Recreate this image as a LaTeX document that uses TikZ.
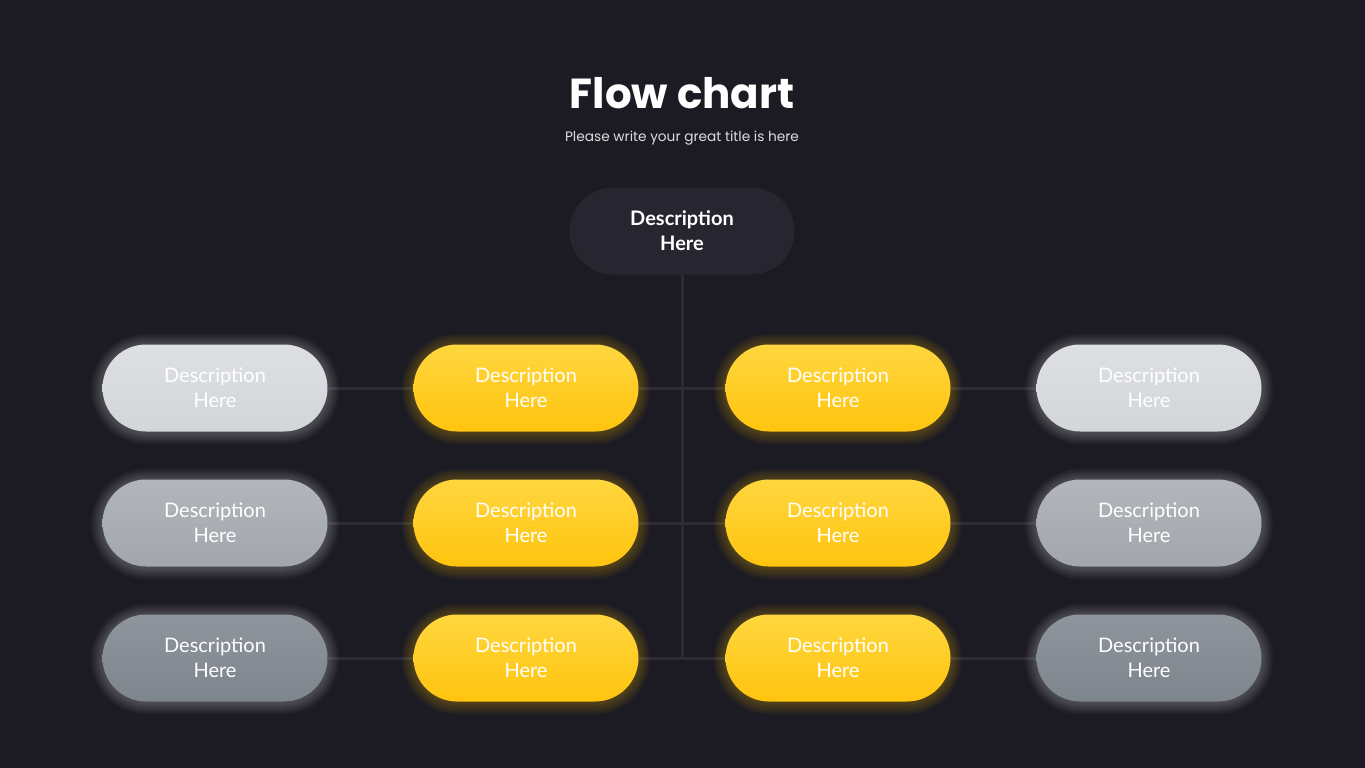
\documentclass[tikz,border=0pt]{standalone}
\usepackage{fontspec}
\setmainfont{Lato}
\newfontfamily\titlefont{Poppins}
\usetikzlibrary{calc}
\definecolor{bg}{HTML}{1C1B23}
\definecolor{topfill}{HTML}{262530}
\definecolor{linec}{HTML}{2C2B36}
\definecolor{yelA}{HTML}{FFD63F}
\definecolor{yelB}{HTML}{FFC40E}
\definecolor{glowY}{HTML}{FFC81A}
\definecolor{grA1}{HTML}{DDDFE2}
\definecolor{grB1}{HTML}{D3D6D9}
\definecolor{grA2}{HTML}{B2B6BB}
\definecolor{grB2}{HTML}{A2A7AD}
\definecolor{grA3}{HTML}{8F959C}
\definecolor{grB3}{HTML}{7E858D}
\definecolor{glowW}{HTML}{E8EAEE}
\tikzset{
  x=1pt, y=-1pt,
  pill/.style={rectangle, rounded corners=43.5pt, minimum width=225pt, minimum height=87pt,
    inner sep=0pt, align=center, text=white, font=\fontsize{20}{25}\selectfont},
  yel/.style={pill, top color=yelA, bottom color=yelB},
  gry1/.style={pill, top color=grA1, bottom color=grB1},
  gry2/.style={pill, top color=grA2, bottom color=grB2},
  gry3/.style={pill, top color=grA3, bottom color=grB3},
  topbox/.style={pill, fill=topfill, font=\bfseries\fontsize{20}{25}\selectfont},
  conn/.style={draw=linec, line width=3pt},
}
\newcommand{\glowat}[3]{% x y color
  \foreach \k in {1,...,12}{
    \fill[#3, opacity=0.025, rounded corners=43.5pt+\k pt]
      (#1-112.5-\k, #2-43.5-\k+1) rectangle (#1+112.5+\k, #2+43.5+\k+1);
  }}
\begin{document}
\begin{tikzpicture}
\fill[bg] (0,0) rectangle (1365,768);
\useasboundingbox (0,0) rectangle (1365,768);
% title
\node[font=\titlefont\bfseries\fontsize{42}{48}\selectfont, text=white, anchor=base] (title) at (682,108) {Flow chart};
\node[font=\titlefont\fontsize{13.7}{16}\selectfont, text=white!85!bg, anchor=base] (sub) at (682,141) {Please write your great title is here};
% coordinates
\coordinate (vtop) at (682,275);
\coordinate (h1) at (682,388);
\coordinate (h2) at (682,523);
\coordinate (h3) at (682,658);
\coordinate (l1) at (328,388); \coordinate (r1) at (1037,388);
\coordinate (l2) at (328,523); \coordinate (r2) at (1037,523);
\coordinate (l3) at (328,658); \coordinate (r3) at (1037,658);
% connectors
\draw[conn] (vtop) -- (h3);
\draw[conn] (l1) -- (r1);
\draw[conn] (l2) -- (r2);
\draw[conn] (l3) -- (r3);
% glows
\glowat{215}{388}{glowW}\glowat{1149}{388}{glowW}
\glowat{215}{523}{glowW}\glowat{1149}{523}{glowW}
\glowat{215}{658}{glowW}\glowat{1149}{658}{glowW}
\foreach \yy in {388,523,658}{\glowat{526}{\yy}{glowY}\glowat{838}{\yy}{glowY}}
% nodes
\node[topbox] (top) at (682,231) {Description\\Here};
\node[gry1] (a1) at (215,388) {Description\\Here};
\node[yel]  (b1) at (526,388) {Description\\Here};
\node[yel]  (c1) at (838,388) {Description\\Here};
\node[gry1] (d1) at (1149,388) {Description\\Here};
\node[gry2] (a2) at (215,523) {Description\\Here};
\node[yel]  (b2) at (526,523) {Description\\Here};
\node[yel]  (c2) at (838,523) {Description\\Here};
\node[gry2] (d2) at (1149,523) {Description\\Here};
\node[gry3] (a3) at (215,658) {Description\\Here};
\node[yel]  (b3) at (526,658) {Description\\Here};
\node[yel]  (c3) at (838,658) {Description\\Here};
\node[gry3] (d3) at (1149,658) {Description\\Here};
\end{tikzpicture}
\end{document}
